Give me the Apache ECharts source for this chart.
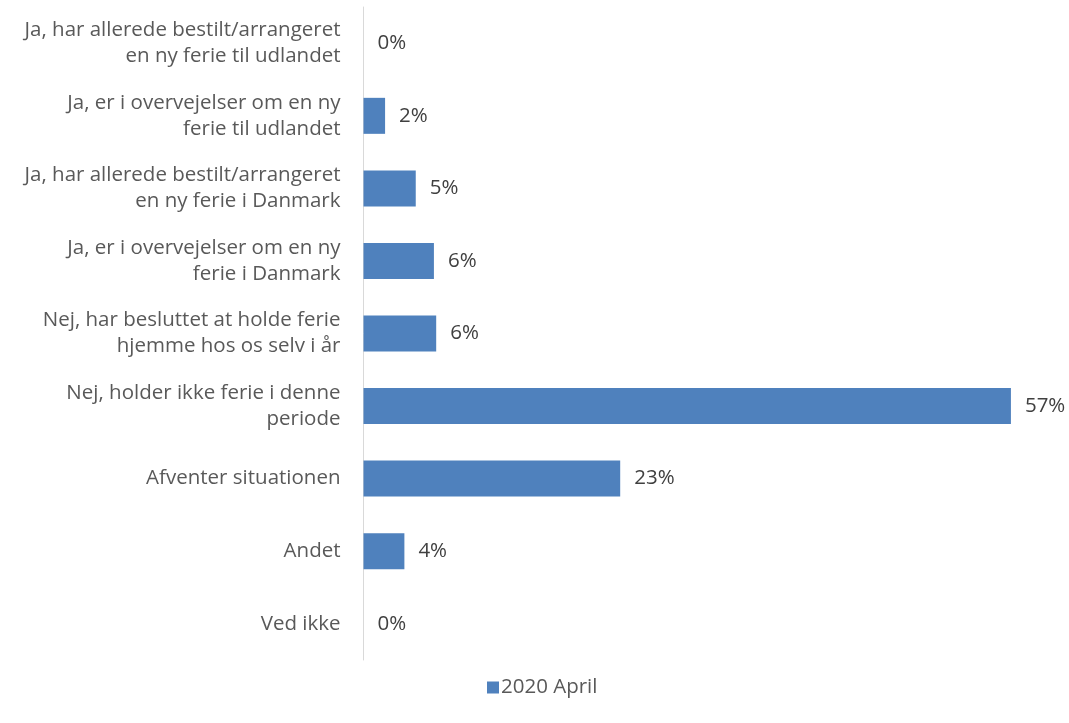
<!DOCTYPE html>
<html><head><meta charset="utf-8">
<script src="https://cdn.jsdelivr.net/npm/echarts@6/dist/echarts.min.js"></script>
<style>html,body{margin:0;padding:0;background:#fff}#c{width:1069px;height:723px}</style>
</head><body><div id="c"></div>
<script>
const categories = [
  "Ja, har allerede bestilt/arrangeret\nen ny ferie til udlandet",
  "Ja, er i overvejelser om en ny\nferie til udlandet",
  "Ja, har allerede bestilt/arrangeret\nen ny ferie i Danmark",
  "Ja, er i overvejelser om en ny\nferie i Danmark",
  "Nej, har besluttet at holde ferie\nhjemme hos os selv i år",
  "Nej, holder ikke ferie i denne\nperiode",
  "Afventer situationen",
  "Andet",
  "Ved ikke"
];
const seriesName = "2020 April";
const values = [0, 1.9, 4.6, 6.2, 6.4, 57.0, 22.6, 3.6, 0];

const chart = echarts.init(document.getElementById('c'));
const font = "'Open Sans', sans-serif";
chart.setOption({
  animation: false,
  textStyle: { fontFamily: font },
  grid: { left: 363.5, top: 7, bottom: 63, right: 24, containLabel: false },
  legend: {
    left: 482, top: 672,
    itemWidth: 12, itemHeight: 12, itemGap: 6,
    icon: 'rect',
    textStyle: { fontFamily: font, fontSize: 20.5, color: '#595959', padding: [0,0,0,-3] },
    data: [seriesName]
  },
  xAxis: { type: 'value', min: 0, max: 60, show: false },
  yAxis: {
    type: 'category', inverse: true, data: categories,
    axisLine: { lineStyle: { color: '#d9d9d9', width: 1 } },
    axisTick: { show: false },
    axisLabel: { margin: 23, fontFamily: font, fontSize: 20.5, color: '#595959', lineHeight: 26, align: 'right' }
  },
  series: [{
    name: seriesName, type: 'bar', data: values, barWidth: 36,
    itemStyle: { color: '#4f81bd' },
    label: {
      show: true, position: 'right', distance: 14,
      fontFamily: font, fontSize: 20.5, color: '#404040',
      formatter: p => Math.round(p.value) + '%'
    }
  }]
});
</script></body></html>
